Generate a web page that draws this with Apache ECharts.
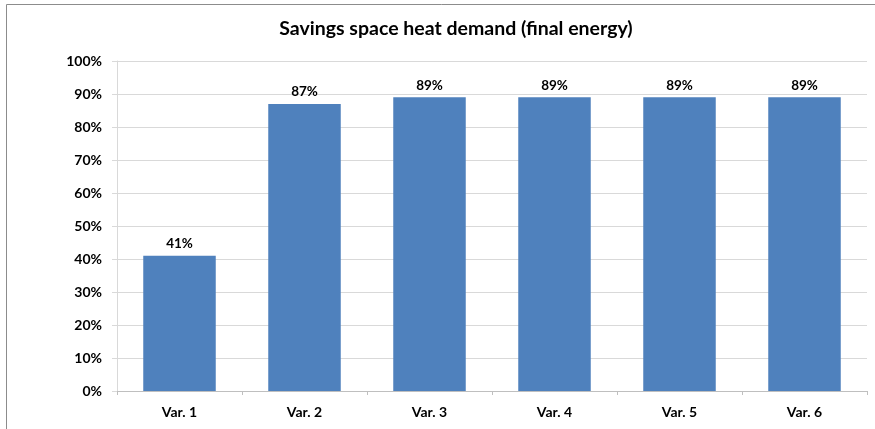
<!DOCTYPE html>
<html>
<head>
<meta charset="utf-8">
<script src="https://cdn.jsdelivr.net/npm/echarts@6/dist/echarts.min.js"></script>
<style>
  html, body { margin: 0; padding: 0; background: #fff; }
  #chart { width: 875px; height: 429px; }
</style>
</head>
<body>
<div id="chart"></div>
<script>
// Share of space heat demand saved per variant (final energy), in percent
const categories = ['Var. 1', 'Var. 2', 'Var. 3', 'Var. 4', 'Var. 5', 'Var. 6'];
const savings = [41, 87, 89, 89, 89, 89];
const titleText = 'Savings space heat demand (final energy)';

const FONT = 'Lato, "Liberation Sans", sans-serif';

const chart = echarts.init(document.getElementById('chart'), null, { renderer: 'canvas' });

chart.setOption({
  animation: false,
  backgroundColor: '#ffffff',
  textStyle: { fontFamily: FONT },
  title: {
    text: titleText,
    left: 451,
    textAlign: 'center',
    top: 14,
    textStyle: { fontFamily: FONT, fontWeight: 'bold', fontSize: 19.5, color: '#000' }
  },
  graphic: [{
    type: 'rect',
    silent: true,
    z: -1,
    shape: { x: 6.5, y: 4.5, width: 1000, height: 600 },
    style: { fill: 'none', stroke: '#8c8c8c', lineWidth: 1 }
  }],
  grid: { left: 117, right: 8, top: 61, bottom: 38, containLabel: false },
  xAxis: {
    type: 'category',
    data: categories,
    axisLine: { lineStyle: { color: '#bfbfbf' } },
    axisTick: { show: true, length: 4, alignWithLabel: false, lineStyle: { color: '#bfbfbf' } },
    axisLabel: { fontFamily: FONT, fontWeight: 'bold', fontSize: 14, color: '#000', margin: 14 }
  },
  yAxis: {
    type: 'value',
    min: 0,
    max: 100,
    interval: 10,
    axisLine: { show: true, lineStyle: { color: '#d9d9d9' } },
    axisTick: { show: true, length: 5, lineStyle: { color: '#d9d9d9' } },
    axisLabel: {
      fontFamily: FONT, fontWeight: 'bold', fontSize: 14, color: '#000', margin: 15,
      formatter: v => v + '%'
    },
    splitLine: { lineStyle: { color: '#d9d9d9' } }
  },
  series: [{
    type: 'bar',
    data: savings,
    barWidth: '58%',
    itemStyle: { color: '#4f81bd' },
    label: {
      show: true,
      position: 'top',
      distance: 5,
      fontFamily: FONT,
      fontWeight: 'bold',
      fontSize: 13.5,
      color: '#000',
      formatter: p => p.value + '%'
    }
  }]
});
</script>
</body>
</html>
